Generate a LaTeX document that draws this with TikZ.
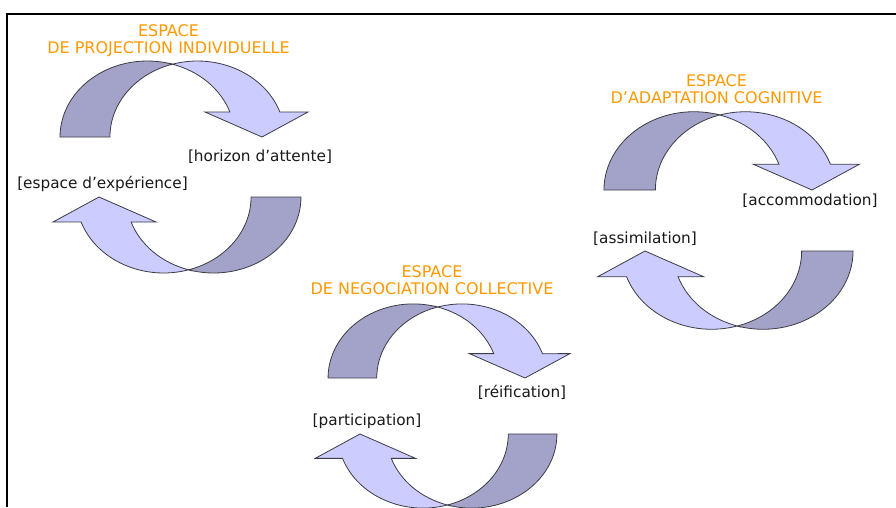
\documentclass[tikz,border=0pt]{standalone}
\usepackage{fontspec}
\setmainfont{DejaVu Sans}
\definecolor{darkband}{RGB}{163,163,202}
\definecolor{lightband}{RGB}{204,204,255}
\definecolor{bandline}{RGB}{60,60,70}
\definecolor{titleorange}{RGB}{255,153,0}
\definecolor{labelgray}{RGB}{25,25,25}
\tikzset{
  darkpart/.style={fill=darkband, draw=bandline, line width=0.8pt, line join=round},
  lightpart/.style={fill=lightband, draw=bandline, line width=0.8pt, line join=miter},
  titletext/.style={text=titleorange, font=\fontsize{16}{17}\selectfont, align=center, inner sep=0pt},
  labeltext/.style={text=labelgray, font=\fontsize{15.3}{17}\selectfont, inner sep=0pt},
  framestroke/.style={line width=2.4pt, black},
}
% #1,#2 = tip position in pixels (y downwards), #3 = scale, #4 = rotation
\newcommand{\bandarrow}[4]{%
  \begin{scope}[shift={(#1,-#2)}, scale=#3, rotate=#4]
    \path[darkpart] (-202,0)
      arc[start angle=180, end angle=73.4, x radius=87.4, y radius=76]
      arc[start angle=106.6, end angle=180, x radius=87.4, y radius=76] -- cycle;
    \path[lightpart] (-89.6,72.8)
      arc[start angle=106.6, end angle=19.2, x radius=87.4, y radius=76]
      -- (46,25) -- (0,0) -- (-57,25) -- (-32.1,25)
      arc[start angle=19.2, end angle=73.4, x radius=87.4, y radius=76] -- cycle;
  \end{scope}}
\begin{document}
\begin{tikzpicture}[x=1pt, y=1pt]
  \useasboundingbox[fill=white] (0,0) rectangle (896,-507);
  % frame
  \coordinate (frameBL) at (7,-507);
  \coordinate (frameTL) at (7,-14);
  \coordinate (frameTR) at (896,-14);
  \draw[framestroke] (frameBL) -- (frameTL) -- (frameTR);

  % group 1
  \bandarrow{262}{137}{1}{0}
  \bandarrow{99}{197}{1}{180}
  \node[titletext] (t1) at (168.5,-40.5) {ESPACE\\DE PROJECTION INDIVIDUELLE};
  \node[labeltext] (l1a) at (260,-157) {[horizon d’attente]};
  \node[labeltext] (l1b) at (102.5,-184) {[espace d’expérience]};

  % group 2
  \bandarrow{812}{190}{1.03}{0}
  \bandarrow{645}{251}{1.03}{180}
  \node[titletext] (t2) at (716.5,-89.5) {ESPACE\\D’ADAPTATION COGNITIVE};
  \node[labeltext] (l2a) at (810,-201) {[accommodation]};
  \node[labeltext] (l2b) at (645,-239) {[assimilation]};

  % group 3
  \bandarrow{525}{378}{0.975}{0}
  \bandarrow{360}{434}{0.975}{180}
  \node[titletext] (t3) at (432,-280.3) {ESPACE\\DE NEGOCIATION COLLECTIVE};
  \node[labeltext] (l3a) at (522,-392.5) {[réification]};
  \node[labeltext] (l3b) at (367,-421) {[participation]};
\end{tikzpicture}
\end{document}
